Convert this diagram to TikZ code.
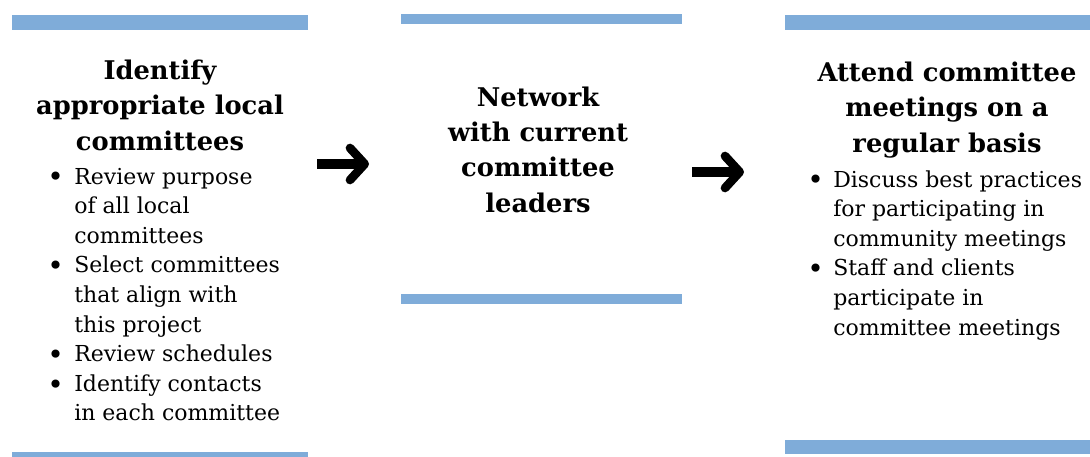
\documentclass[tikz,border=0pt]{standalone}
\usepackage{fontspec}
\setmainfont{DejaVu Serif}
\usetikzlibrary{arrows.meta,positioning}
\definecolor{barblue}{RGB}{127,172,217}
\newcommand{\headSize}{\fontsize{19.3}{26.3}\selectfont}
\newcommand{\listSize}{\fontsize{16.5}{22.2}\selectfont}
\newcommand{\dotmark}{\raisebox{-2.2pt}{\fontsize{21}{22}\selectfont\textbullet}}

\begin{document}
\begin{tikzpicture}[x=0.75pt,y=-0.75pt]
  \tikzset{
    bar/.style={fill=barblue,draw=none},
    heading/.style={font=\headSize\bfseries,align=center,anchor=base,inner sep=0pt},
    steps/.style={font=\listSize,anchor=base west,inner sep=0pt},
    flow arrow/.style={line width=7pt,-{Straight Barb[length=11pt,width=24pt,line width=6.5pt,round]}}
  }
  \useasboundingbox (0,0) rectangle (1090,457);
  % blue rules above and below each column
  \fill[bar] (12,15) rectangle (308,30);
  \fill[bar] (12,452) rectangle (308,457);
  \fill[bar] (401,14) rectangle (682,24);
  \fill[bar] (401,294) rectangle (682,304);
  \fill[bar] (785,15) rectangle (1090,30);
  \fill[bar] (785,440) rectangle (1090,454);

  % first column
  \node[heading] (identify) at (160,150)
    {Identify\\appropriate local\\committees};
  \node[steps] (identifyList) at (47,184) {%
    \begin{tabular}[t]{@{}p{20.25pt}@{}l@{}}
      \dotmark & Review purpose\\
               & of all local\\
               & committees\\
      \dotmark & Select committees\\
               & that align with\\
               & this project\\
      \dotmark & Review schedules\\
      \dotmark & Identify contacts\\
               & in each committee
    \end{tabular}};

  % second column
  \node[heading] (network) at (538,212)
    {Network\\with current\\committee\\leaders};

  % third column
  \node[heading] (attend) at (947,152)
    {Attend committee\\meetings on a\\regular basis};
  \node[steps] (attendList) at (807,187) {%
    \begin{tabular}[t]{@{}p{19.5pt}@{}l@{}}
      \dotmark & Discuss best practices\\
               & for participating in\\
               & community meetings\\
      \dotmark & Staff and clients\\
               & participate in\\
               & committee meetings
    \end{tabular}};

  % arrows between the columns
  \coordinate (arrowOneStart) at (317,164);
  \coordinate (arrowOneEnd) at (369,164);
  \coordinate (arrowTwoStart) at (692,172);
  \coordinate (arrowTwoEnd) at (744,172);
  \draw[flow arrow] (arrowOneStart) -- (arrowOneEnd);
  \draw[flow arrow] (arrowTwoStart) -- (arrowTwoEnd);
\end{tikzpicture}
\end{document}
